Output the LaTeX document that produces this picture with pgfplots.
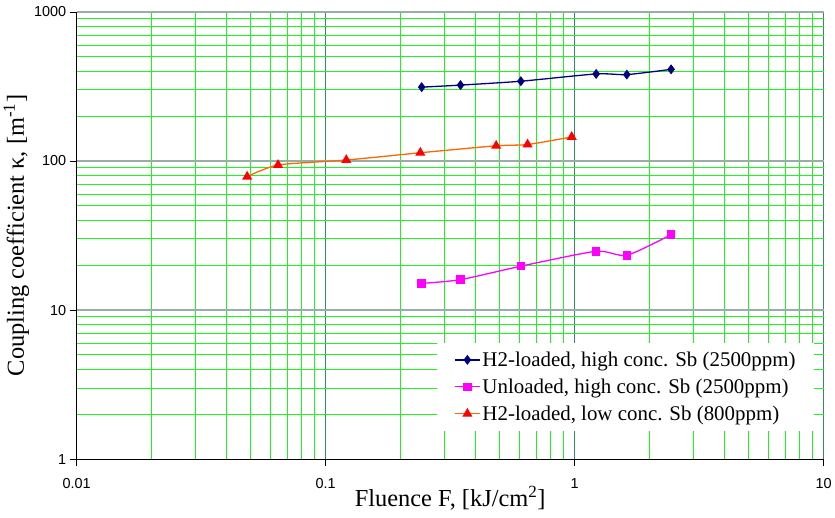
\documentclass[border=0pt]{standalone}
\usepackage{pgfplots}
\pgfplotsset{compat=1.18}
\usepackage{fontspec}
\setmainfont{Liberation Serif}
\newfontfamily\arial{Liberation Sans}
\definecolor{navyline}{RGB}{0,0,128}
\definecolor{pinkline}{RGB}{255,0,255}
\definecolor{orangeline}{RGB}{255,102,0}
\definecolor{redmark}{RGB}{255,0,0}
\definecolor{gridgreen}{RGB}{30,245,30}
\definecolor{majorx}{RGB}{45,140,100}
\definecolor{majory}{RGB}{150,175,165}

\begin{document}
\begin{tikzpicture}
\begin{loglogaxis}[
  name=ax,
  scale only axis,
  width=750pt, height=449pt,
  xmin=0.01, xmax=10, ymin=1, ymax=1000,
  axis lines*=left,
  axis line style={black, line width=1pt},
  xtick={0.01,0.1,1,10}, xticklabels={0.01,0.1,1,10},
  ytick={1,10,100,1000}, yticklabels={1,10,100,1000},
  tick label style={font=\arial\fontsize{14.5}{16}\selectfont, black},
  xticklabel style={yshift=-9pt},
  tick align=outside,
  major tick length=7pt, minor tick length=0pt,
  tick style={black, line width=0.8pt},
  grid=both,
  minor grid style={gridgreen, line width=1pt},
  major x grid style={majorx, line width=1pt},
  major y grid style={majory, line width=1.2pt},
  xlabel={Fluence F, [kJ/cm\textsuperscript{2}]},
  ylabel={Coupling coefficient κ, [m\textsuperscript{-1}]},
  label style={font=\fontsize{24.5}{28}\selectfont},
  xlabel style={at={(rel axis cs:0.5,0)}, yshift=-24pt},
  ylabel style={yshift=-2pt},
  legend style={at={(rel axis cs:0.988,0.063)}, anchor=south east,
    draw=none, fill=white, font=\fontsize{21}{24}\selectfont,
    row sep=7pt, inner xsep=17pt, inner ysep=7pt},
  legend cell align=left,
  legend image code/.code={%
    \draw[#1, mark repeat=2, mark phase=2]
      plot coordinates {(0pt,0pt) (12.5pt,0pt) (25pt,0pt)};},
  every axis plot/.append style={line width=1.3pt, smooth, tension=0.4},
]
\addplot[navyline, mark=diamond*, mark size=4pt, mark options={fill=navyline, solid}] coordinates {
  (0.243,313)(0.348,323)(0.608,343)(1.22,384)(1.62,380)(2.44,412)
};
\addlegendentry{H2-loaded, high conc. Sb (2500ppm)}
\addplot[pinkline, mark=square*, mark size=3.6pt, mark options={fill=pinkline, solid}] coordinates {
  (0.243,15.1)(0.348,16.0)(0.608,19.7)(1.22,24.8)(1.62,23.3)(2.44,32.1)
};
\addlegendentry{Unloaded, high conc. Sb (2500ppm)}
\addplot[orangeline, mark=triangle*, mark size=4.6pt, mark options={fill=redmark, draw=redmark, solid}] coordinates {
  (0.0484,78.5)(0.0644,94)(0.121,101.5)(0.24,113.6)(0.484,126.5)(0.647,129)(0.973,145)
};
\addlegendentry{H2-loaded, low conc. Sb (800ppm)}
\end{loglogaxis}
\path (ax.south west) ++(-77pt,-59pt) coordinate (bbl);
\path (ax.north east) ++(9pt,12pt) coordinate (btr);
\path (bbl) rectangle (btr);
\end{tikzpicture}
\end{document}
